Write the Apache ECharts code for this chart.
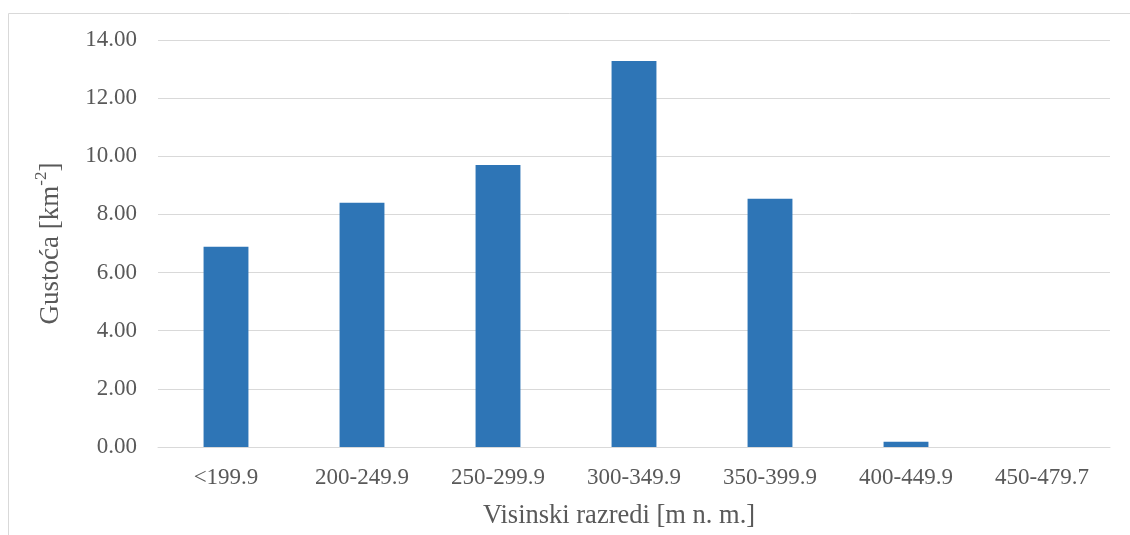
<!DOCTYPE html>
<html><head><meta charset="utf-8">
<script src="https://cdn.jsdelivr.net/npm/echarts@6/dist/echarts.min.js"></script>
<style>html,body{margin:0;padding:0;background:#fff}#c{width:1130px;height:535px}</style>
</head><body><div id="c"></div>
<script>
const categories = ['<199.9','200-249.9','250-299.9','300-349.9','350-399.9','400-449.9','450-479.7'];
const values = [6.89, 8.40, 9.70, 13.28, 8.54, 0.18, 0];
const yTicks = {min: 0, max: 14, interval: 2};
const xTitle = 'Visinski razredi [m n. m.]';
const yTitleMain = 'Gustoća [km';
const yTitleSup = '-2';

const chart = echarts.init(document.getElementById('c'), null, {renderer: 'canvas'});
const font = '"Liberation Serif", "Times New Roman", serif';
chart.setOption({
  animation: false,
  graphic: [{type: 'rect', shape: {x: 8.5, y: 13.5, width: 1140, height: 540}, style: {fill: 'none', stroke: '#d9d9d9', lineWidth: 1}, silent: true}],
  grid: {left: 158, right: 20, top: 40, bottom: 88, containLabel: false},
  xAxis: {
    type: 'category', data: categories,
    axisLine: {show: true, lineStyle: {color: '#d9d9d9', width: 1}},
    axisTick: {show: false},
    axisLabel: {color: '#595959', fontFamily: font, fontSize: 23, margin: 19},
    name: xTitle, nameLocation: 'middle', nameGap: 56,
    nameTextStyle: {color: '#595959', fontFamily: font, fontSize: 26.5, padding: [0, 30, 0, 0]}
  },
  yAxis: {
    type: 'value', min: yTicks.min, max: yTicks.max, interval: yTicks.interval,
    axisLine: {show: false}, axisTick: {show: false},
    splitLine: {lineStyle: {color: '#d9d9d9', width: 1}},
    axisLabel: {color: '#595959', fontFamily: font, fontSize: 23, margin: 21, formatter: v => v.toFixed(2)},
    name: '{m|' + yTitleMain + '}{s|' + yTitleSup + '}{m|]}', nameLocation: 'middle', nameGap: 94, nameRotate: 90,
    nameTextStyle: {
      color: '#595959', fontFamily: font, fontSize: 27,
      rich: {
        m: {color: '#595959', fontFamily: font, fontSize: 27, lineHeight: 31, verticalAlign: 'bottom'},
        s: {color: '#595959', fontFamily: font, fontSize: 17, lineHeight: 31, verticalAlign: 'top'}
      }
    }
  },
  series: [{
    type: 'bar', data: values, barWidth: '33%',
    itemStyle: {color: '#2e75b6'}
  }]
});
</script></body></html>
